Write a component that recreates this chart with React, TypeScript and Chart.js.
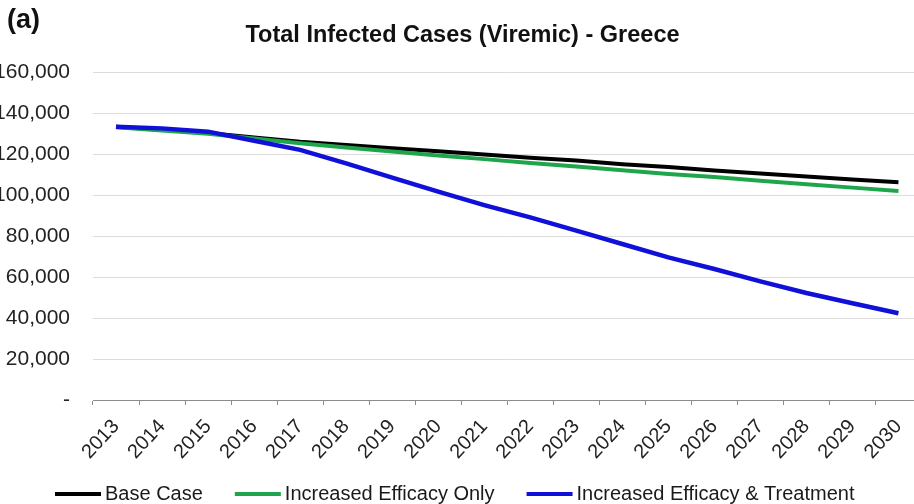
import React, { useEffect, useRef } from "react";
import { Chart, registerables } from "chart.js";

Chart.register(...registerables);

const years = ["2013", "2014", "2015", "2016", "2017", "2018", "2019", "2020", "2021", "2022", "2023", "2024", "2025", "2026", "2027", "2028", "2029", "2030"];
const baseCase = [133.3, 131.8, 130.2, 128.1, 126.0, 124.4, 122.8, 121.3, 119.8, 118.2, 116.8, 115.0, 113.6, 112.0, 110.5, 109.0, 107.6, 106.2].map((v) => v * 1000);
const efficacyOnly = [133.0, 131.5, 129.9, 127.6, 125.2, 123.2, 121.2, 119.3, 117.5, 115.6, 113.9, 112.1, 110.3, 108.8, 107.0, 105.3, 103.6, 102.0].map((v) => v * 1000);
const efficacyTreatment = [133.3, 132.5, 130.9, 126.5, 122.0, 115.4, 108.5, 101.6, 95.1, 89.1, 82.6, 76.1, 69.6, 63.9, 57.9, 52.2, 47.2, 42.3].map((v) => v * 1000);
const yTickLabels = ["-", "20,000", "40,000", "60,000", "80,000", "100,000", "120,000", "140,000", "160,000"];
const seriesLabels = ["Base Case", "Increased Efficacy Only", "Increased Efficacy & Treatment"];
const seriesColors = ["#000000", "#1fa64c", "#1010d8"];
const chartTitle = "Total Infected Cases (Viremic) - Greece";
const panelLabel = "(a)";

const FONT = "'Liberation Sans', Arial, Helvetica, sans-serif";

export default function App() {
  const ref = useRef<HTMLCanvasElement>(null);

  useEffect(() => {
    if (!ref.current) return;
    const overlay = {
      id: "overlay",
      afterDraw(chart: any) {
        const ctx = chart.ctx as CanvasRenderingContext2D;
        ctx.save();
        ctx.fillStyle = "#111111";
        ctx.textBaseline = "alphabetic";
        ctx.font = `bold 27px ${FONT}`;
        ctx.textAlign = "left";
        ctx.fillText(panelLabel, 7, 28);
        ctx.font = `bold 23.5px ${FONT}`;
        ctx.textAlign = "center";
        ctx.fillText(chartTitle, 462.5, 41.5);
        ctx.font = `20px ${FONT}`;
        ctx.textAlign = "left";
        let x = 55;
        chart.data.datasets.forEach((ds: any) => {
          ctx.fillStyle = ds.borderColor;
          ctx.fillRect(x, 492, 46, 4);
          x += 46 + 4;
          ctx.fillStyle = "#1a1a1a";
          ctx.fillText(ds.label, x, 500);
          x += ctx.measureText(ds.label).width + 32;
        });
        ctx.restore();
      },
    };

    const chart = new Chart(ref.current, {
      type: "line",
      data: {
        labels: years,
        datasets: [
          { label: seriesLabels[0], data: baseCase, borderColor: seriesColors[0], backgroundColor: seriesColors[0], borderWidth: 4, pointRadius: 0, fill: false, tension: 0, order: 2 },
          { label: seriesLabels[1], data: efficacyOnly, borderColor: seriesColors[1], backgroundColor: seriesColors[1], borderWidth: 4, pointRadius: 0, fill: false, tension: 0, order: 1 },
          { label: seriesLabels[2], data: efficacyTreatment, borderColor: seriesColors[2], backgroundColor: seriesColors[2], borderWidth: 4.5, pointRadius: 0, fill: false, tension: 0, order: 0 },
        ],
      },
      options: {
        responsive: false,
        animation: false,
        devicePixelRatio: 1,
        layout: { padding: { top: 72, left: 0, right: 0, bottom: 0 } },
        plugins: {
          legend: { display: false },
          tooltip: { enabled: false },
          title: { display: false },
        },
        scales: {
          x: {
            type: "category",
            offset: true,
            grid: { offset: true, drawOnChartArea: false, drawTicks: true, tickLength: 5, color: "#8c8c8c", lineWidth: 1 },
            border: { display: true, color: "#8c8c8c", width: 1 },
            ticks: { minRotation: 47, maxRotation: 47, autoSkip: false, font: { family: FONT, size: 20 }, color: "#222222", padding: 10 },
            afterFit: (s: any) => { s.height = 104; },
          },
          y: {
            min: 0,
            max: 160000,
            ticks: { stepSize: 20000, callback: (_v: any, i: number) => yTickLabels[i], font: { family: FONT, size: 21 }, color: "#222222", padding: 23 },
            grid: { color: "#dcdcdc", lineWidth: 1, drawTicks: false },
            border: { display: false },
            afterFit: (s: any) => { s.width = 93; },
          },
        },
      },
      plugins: [overlay],
    } as any);

    return () => chart.destroy();
  }, []);

  return (
    <div style={{ position: "fixed", left: 0, top: 0, width: 914, height: 504, overflow: "hidden", background: "#ffffff" }}>
      <canvas ref={ref} width={926} height={504} style={{ display: "block", width: 926, height: 504 }} />
    </div>
  );
}
